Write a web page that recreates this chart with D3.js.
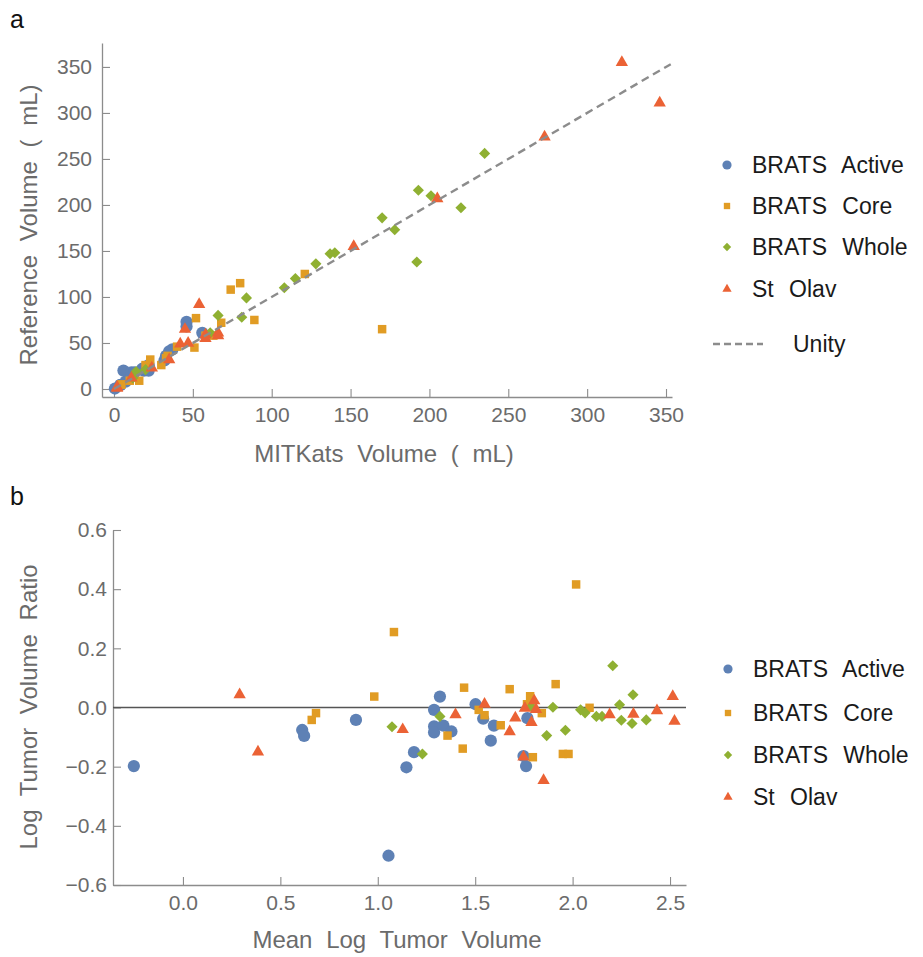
<!DOCTYPE html>
<html>
<head>
<meta charset="utf-8">
<script src="https://cdn.jsdelivr.net/npm/d3@7"></script>
<style>
body { margin: 0; background: #fff; }
svg text { font-family: "Liberation Sans", Arial, sans-serif; }
</style>
</head>
<body>
<svg id="chart" width="923" height="957"></svg>
<script>
// series names + colours (Mathematica 97 palette)
var seriesNames = ['BRATS Active', 'BRATS Core', 'BRATS Whole', 'St Olav'];
var seriesColors = ['#5e81b5', '#e19c24', '#8fb032', '#eb6235'];

// panel a : [MITKats mL, Reference mL]
var activeA = [[0.6,0.5],[4,4.3],[4.1,4.4],[7.4,8],[6,20],[11,18],[13,18],[19,20],[22,20],[18,21],[18,22],[20,23],[22,26],[32,31],[33,36],[37,43],[35,41],[56,61],[46,68],[46,73]];
var coreA = [[4.4,4.8],[4.7,4.9],[10,9],[16,9],[20,26],[23,32],[30,26],[33,33.5],[34,36],[40,46],[51,45],[58,58],[63,58],[52,77],[68,72],[89,75],[74,108],[80,115],[170,65],[121,125]];
var wholeA = [[12,12],[14,19],[20,21],[61,61],[66,80],[81,78],[84,99],[108,110],[115,120],[128,136],[137,147],[140,148],[170,186],[178,173],[192,138],[193,216],[201,210],[220,197],[235,256]];
var olavA = [[2,2],[2,3],[11,13],[24,24],[35,33],[42,50],[45,66],[47,51],[58,60],[58,56],[66,62],[66,59],[54,93],[152,156],[205,208],[273,275],[322,356],[346,312]];

// panel b : [mean log volume, log volume ratio]
var activeB = [[-0.252,-0.198],[0.612,-0.076],[0.622,-0.096],[0.888,-0.042],[1.055,-0.501],[1.147,-0.202],[1.186,-0.151],[1.289,-0.008],[1.319,0.037],[1.289,-0.064],[1.289,-0.084],[1.337,-0.061],[1.378,-0.081],[1.502,0.011],[1.541,-0.038],[1.596,-0.061],[1.580,-0.112],[1.768,-0.036],[1.748,-0.164],[1.761,-0.198]];
var coreB = [[0.661,-0.042],[0.683,-0.019],[0.982,0.037],[1.083,0.255],[1.358,-0.095],[1.436,-0.139],[1.443,0.067],[1.518,-0.008],[1.548,-0.026],[1.631,-0.060],[1.677,0.062],[1.766,0.011],[1.782,0.038],[1.796,-0.168],[1.842,-0.019],[1.913,0.079],[1.950,-0.157],[1.979,-0.157],[2.018,0.416],[2.087,-0.001]];
var wholeB = [[1.073,-0.065],[1.229,-0.157],[1.319,-0.030],[1.789,0.003],[1.867,-0.095],[1.899,0.001],[1.963,-0.077],[2.041,-0.008],[2.064,-0.018],[2.122,-0.030],[2.151,-0.030],[2.206,0.141],[2.241,0.009],[2.250,-0.043],[2.305,-0.054],[2.310,0.043],[2.378,-0.042]];
var olavB = [[0.291,0.047],[0.385,-0.147],[1.128,-0.071],[1.399,-0.021],[1.548,0.015],[1.677,-0.078],[1.706,-0.032],[1.748,-0.164],[1.755,0.001],[1.789,-0.047],[1.803,0.026],[1.812,-0.003],[1.851,-0.243],[2.190,-0.021],[2.312,-0.019],[2.433,-0.007],[2.514,0.041],[2.523,-0.043]];

// ticks
var ticksA = [0, 50, 100, 150, 200, 250, 300, 350];
var ticksBx = [0, 0.5, 1.0, 1.5, 2.0, 2.5];
var ticksBy = [-0.6, -0.4, -0.2, 0, 0.2, 0.4, 0.6];

var svg = d3.select('#chart');
var axisColor = '#8c8c8c', labelColor = '#6b6b6b';

// marker shapes per series
function marker(i, big) {
    var s = big ? 1 : 0.75;
    if (i === 0) return d3.symbol().type(d3.symbolCircle).size(118 * s * s)();
    if (i === 1) return d3.symbol().type(d3.symbolSquare).size(72 * s * s)();
    if (i === 2) return d3.symbol().type(d3.symbolSquare).size(62 * s * s)();
    return d3.symbol().type(d3.symbolTriangle).size(66 * s * s)();
}
function drawMarkers(g, data, i, x, y) {
    g.selectAll(null).data(data).enter().append('path')
        .attr('d', marker(i, true))
        .attr('transform', function(d) {
            return 'translate(' + x(d[0]) + ',' + y(d[1]) + ')' + (i === 2 ? ' rotate(45)' : '') + (i === 3 ? ' translate(0,1)' : '');
        })
        .attr('fill', seriesColors[i]);
}

function styleAxis(g, size) {
    g.select('.domain').attr('stroke', axisColor).attr('stroke-width', 1.3);
    g.selectAll('.tick line').attr('stroke', axisColor).attr('stroke-width', 1.1);
    g.selectAll('.tick text').attr('fill', labelColor).style('font-size', size + 'px');
}

function minorRange(a, b, step) {
    var out = [];
    for (var k = Math.round(a / step); k * step <= b + 1e-9; k++) out.push(+(k * step).toFixed(4));
    return out;
}

function legend(g, x0, ys, withUnity) {
    seriesNames.forEach(function(n, i) {
        g.append('path').attr('d', marker(i, false))
            .attr('transform', 'translate(' + x0 + ',' + ys[i] + ')' + (i === 2 ? ' rotate(45)' : ''))
            .attr('fill', seriesColors[i]);
        g.append('text').attr('x', x0 + 25).attr('y', ys[i]).attr('dy', '0.35em')
            .attr('fill', '#1a1a1a').style('font-size', '23px').style('word-spacing', '9px').text(n);
    });
    if (withUnity) {
        g.append('line').attr('x1', x0 - 14).attr('x2', x0 + 36).attr('y1', 344).attr('y2', 344)
            .attr('stroke', '#8c8c8c').attr('stroke-width', 2.4).attr('stroke-dasharray', '7,4');
        g.append('text').attr('x', x0 + 66).attr('y', 344).attr('dy', '0.35em')
            .attr('fill', '#1a1a1a').style('font-size', '23px').text('Unity');
    }
}

function title(x, y, rot, txt) {
    svg.append('text').attr('transform', 'translate(' + x + ',' + y + ')' + (rot ? ' rotate(-90)' : ''))
        .attr('text-anchor', 'middle').attr('fill', labelColor)
        .style('font-size', '24px').style('word-spacing', '7px').text(txt);
}

// ===== PANEL A =====
var xa = d3.scaleLinear().domain([-7.6, 353.8]).range([102, 672]);
var ya = d3.scaleLinear().domain([-8.7, 376]).range([397, 43]);

svg.append('text').attr('x', 10).attr('y', 28).style('font-size', '25px').attr('fill', '#111').text('a');

var gxa = svg.append('g').attr('transform', 'translate(0,397)');
gxa.call(d3.axisBottom(xa).tickValues(minorRange(10, 350, 10)).tickSizeInner(-4).tickSizeOuter(0).tickFormat(''));
gxa.call(d3.axisBottom(xa).tickValues(ticksA).tickSizeInner(-8).tickSizeOuter(0).tickPadding(10).tickFormat(d3.format('d')));
styleAxis(gxa, 21);

var gya = svg.append('g').attr('transform', 'translate(102,0)');
gya.call(d3.axisLeft(ya).tickValues(minorRange(10, 370, 10)).tickSizeInner(-4).tickSizeOuter(0).tickFormat(''));
gya.call(d3.axisLeft(ya).tickValues(ticksA).tickSizeInner(-8).tickSizeOuter(0).tickPadding(10).tickFormat(d3.format('d')));
styleAxis(gya, 21);

title(384, 462, false, 'MITKats Volume ( mL)');
title(37, 225, true, 'Reference Volume ( mL)');

var pa = svg.append('g');
[activeA, coreA, wholeA, olavA].forEach(function(d, i) { drawMarkers(pa, d, i, xa, ya); });

svg.append('line').attr('x1', xa(0)).attr('y1', ya(0)).attr('x2', xa(353)).attr('y2', ya(353))
    .attr('stroke', '#8c8c8c').attr('stroke-width', 2.4).attr('stroke-dasharray', '8,5');

legend(svg.append('g'), 727, [165, 206, 247, 289], true);

// ===== PANEL B =====
var xb = d3.scaleLinear().domain([-0.359, 2.582]).range([113, 686]);
var yb = d3.scaleLinear().domain([-0.6, 0.6]).range([885, 530]);

svg.append('text').attr('x', 10).attr('y', 505).style('font-size', '25px').attr('fill', '#111').text('b');

var gxb = svg.append('g').attr('transform', 'translate(0,885)');
gxb.call(d3.axisBottom(xb).tickValues(minorRange(-0.3, 2.5, 0.1)).tickSizeInner(-4).tickSizeOuter(0).tickFormat(''));
gxb.call(d3.axisBottom(xb).tickValues(ticksBx).tickSizeInner(-8).tickSizeOuter(0).tickPadding(10).tickFormat(d3.format('.1f')));
styleAxis(gxb, 21);

var gyb = svg.append('g').attr('transform', 'translate(113,0)');
gyb.call(d3.axisLeft(yb).tickValues(minorRange(-0.6, 0.6, 0.05)).tickSizeInner(-4).tickSizeOuter(0).tickFormat(''));
gyb.call(d3.axisLeft(yb).tickValues(ticksBy).tickSizeInner(-8).tickSizeOuter(0).tickPadding(6).tickFormat(d3.format('.1f')));
styleAxis(gyb, 21);

svg.append('line').attr('x1', xb(-0.359)).attr('x2', xb(2.582)).attr('y1', yb(0)).attr('y2', yb(0))
    .attr('stroke', '#555').attr('stroke-width', 1.5);

title(397, 948, false, 'Mean Log Tumor Volume');
title(37, 707, true, 'Log Tumor Volume Ratio');

var pb = svg.append('g');
[activeB, coreB, wholeB, olavB].forEach(function(d, i) { drawMarkers(pb, d, i, xb, yb); });

legend(svg.append('g'), 728, [669, 713, 755, 797], false);
</script>
</body>
</html>
